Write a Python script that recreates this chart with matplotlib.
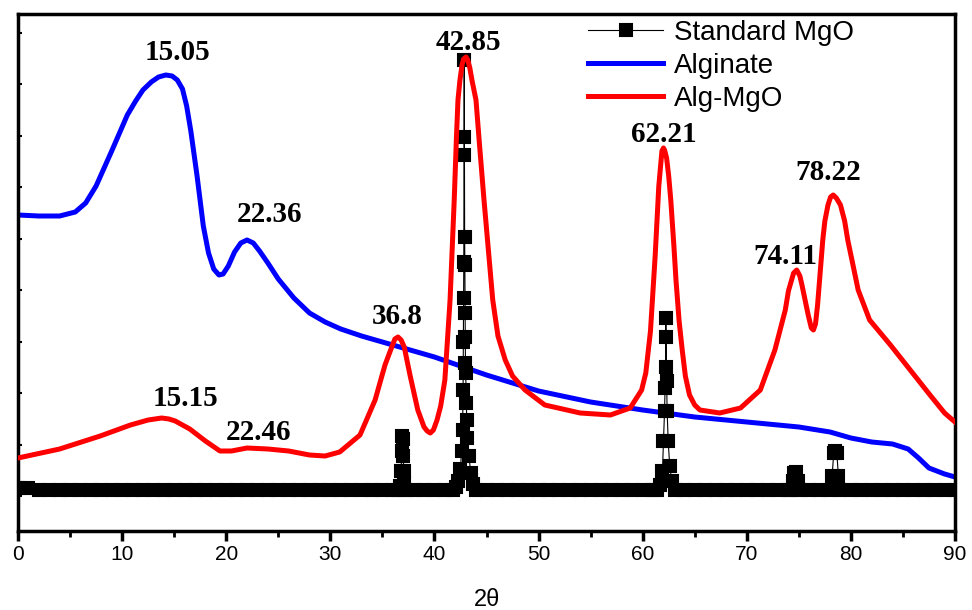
import numpy as np
import matplotlib.pyplot as plt
from matplotlib.ticker import MultipleLocator

# %% data (intensity in arbitrary units)
alg_x = [0, 2, 4, 5.5, 6.5, 7.5, 9, 10.5, 11.3, 12, 12.8, 13.5, 14.2, 14.8, 15.3, 15.8,
         16.2, 16.6, 17.2, 17.8, 18.3, 18.8, 19.3, 19.7, 20.2, 20.8, 21.4, 22.0, 22.6,
         23.2, 24, 25, 26.5, 28, 29.5, 31, 33, 36, 40, 45, 50, 55, 60, 65, 70, 75, 78,
         80, 82, 84, 85.5, 86.5, 87.5, 89, 90]
alg_y = [316, 315, 315, 319, 328, 345, 380, 416, 430, 441, 449, 454, 456, 455, 451, 442,
         425, 400, 355, 305, 278, 262, 256, 257, 265, 279, 288, 291, 288,
         280, 268, 252, 233, 218, 209, 202, 195, 186, 174, 156, 140, 129, 121, 114, 109,
         104, 99, 93, 89, 87, 82, 73, 63, 57, 54]

algmgo_x = [0, 4, 7.9, 10.8, 12.5, 13.8, 14.5, 15.1, 16.5, 18, 19.4, 20.5, 22, 24, 26, 28,
            29.5, 30.9, 32.85, 34.3, 35.25, 35.9, 36.2, 36.5, 36.8, 37.1, 37.65, 38.4,
            39.0, 39.3, 39.6, 39.9, 40.25, 40.6, 41.0, 41.5, 41.9, 42.1, 42.26, 42.45,
            42.65, 42.8, 43.03, 43.2, 43.4, 43.6, 43.99, 44.3, 44.76, 45.6, 46.1, 46.8,
            47.5, 48.7, 50.6, 54.0, 56.9, 58.8, 59.9, 60.3, 60.75, 61.2, 61.55, 61.85,
            62.0, 62.1, 62.3, 62.5, 62.7, 63.0, 63.2, 63.5, 63.8, 64.1, 64.5, 65.0, 65.5,
            67.4, 69.4, 71.3, 72.7, 73.7, 74.0, 74.5, 74.8, 75.1, 75.3, 75.9, 76.2, 76.4,
            76.6, 76.8, 77.3, 77.5, 77.8, 78.05, 78.3, 78.6, 79.0, 79.4, 79.7, 80.7, 81.8,
            83.8, 85.7, 87.6, 89.0, 90]
algmgo_y = [73, 82, 95, 106, 111, 113, 112, 110, 102, 90, 80, 80, 83, 82, 80, 76,
            75, 79, 96, 131, 166, 184, 192, 194, 191, 184, 156, 121,
            104, 100, 98, 101, 111, 125, 151, 231, 331, 390, 431, 451,
            466, 472, 474, 471, 463, 451, 431, 390, 331, 231, 195, 171,
            155, 141, 126, 118, 116, 123, 141, 158, 200, 275, 345, 380,
            383, 381, 373, 355, 331, 285, 251, 210, 181, 155, 136, 126, 121,
            118, 123, 141, 181, 221, 240, 258, 261, 255, 246, 216, 203, 201,
            207, 226, 291, 310, 326, 334, 336, 333, 326, 310, 291, 241, 211,
            186, 161, 136, 118, 109]

std_x = [0, 1, 2, 3, 4, 5, 6, 7, 8, 9, 10, 11, 12, 13, 14, 15, 16, 17, 18, 19, 20,
         21, 22, 23, 24, 25, 26, 27, 28, 29, 30, 31, 32, 33, 34, 35, 36,
         36.5, 36.7, 36.8, 36.85, 36.9, 36.95, 37.0, 37.05, 37.1, 37.3,
         38, 39, 40, 41, 41.8, 42.1, 42.3, 42.5, 42.6, 42.7, 42.75, 42.78, 42.8, 42.82,
         42.84, 42.86, 42.88, 42.9, 42.92, 42.94, 42.96, 42.98, 43.0, 43.05, 43.1, 43.15,
         43.3, 43.5, 43.7, 44.0, 45, 46, 47, 48, 49, 50, 51, 52, 53, 54, 55, 56, 57, 58,
         59, 60, 61, 61.4, 61.7, 61.9, 62.0, 62.1, 62.15, 62.2, 62.22, 62.25, 62.3, 62.35,
         62.45, 62.6, 62.8, 63.1, 64, 65, 66, 67, 68, 69, 70, 71, 72, 73, 74,
         74.2, 74.4, 74.5, 74.7, 74.9, 75.1, 76, 77, 78.0, 78.2, 78.35, 78.5, 78.65, 78.8,
         79.0, 80, 81, 82, 83, 84, 85, 86, 87, 88, 89, 90]
std_y = [43, 43] + [41] * 35 + \
        [41, 45, 60, 80, 95, 92, 75, 60, 48, 41] + \
        [41, 41, 41, 41, 41, 44, 50, 62, 80, 101, 141, 189, 233, 269,
         394, 471, 376, 294, 266, 218, 194, 168, 158, 128, 111, 93,
         75, 58, 47, 41] + [41] * 17 + \
        [41, 46, 60, 90, 120, 143, 164, 213, 194, 150, 120, 90, 65, 50, 41] + [41] * 11 + \
        [41, 50, 58, 59, 50, 41, 41, 41, 41, 55, 78, 80, 78, 55, 41] + [41] * 11

peak_labels = ["15.05", "22.36", "42.85", "36.8", "62.21", "74.11", "78.22", "15.15", "22.46"]
label_x = [15.3, 24.2, 43.3, 36.4, 62.0, 73.7, 77.8, 16.1, 23.1]
label_y = [479, 316, 489, 214, 396, 275, 358, 133, 99]

# %% plot
fig = plt.figure(figsize=(9.72, 6.10), dpi=100)
ax = fig.add_axes([18 / 972, 1 - 531 / 610, 937 / 972, 517 / 610])

l_alg, = ax.plot(alg_x, alg_y, color="#0000ff", lw=3.6, zorder=2, label="Alginate",
                 solid_joinstyle="round")
l_std, = ax.plot(std_x, std_y, color="black", lw=0.8, marker="s", ms=9, mew=1.5,
                 zorder=3, label="Standard MgO")
l_mix, = ax.plot(algmgo_x, algmgo_y, color="#ff0000", lw=3.6, zorder=4, label="Alg-MgO",
                 solid_joinstyle="round")

for txt, x, y in zip(peak_labels, label_x, label_y):
    ax.text(x, y, txt, ha="center", va="center", fontsize=21, fontweight="bold",
            family="Liberation Serif", zorder=5)

ax.set_xlim(0, 90)
ax.set_ylim(0, 517)
ax.xaxis.set_major_locator(MultipleLocator(10))
ax.xaxis.set_minor_locator(MultipleLocator(5))
ax.set_yticks([35 + 51.5 * k for k in range(10)])
ax.set_yticklabels([])
ax.tick_params(axis="x", which="major", direction="out", length=7, width=2.5,
               labelsize=15, pad=3)
ax.tick_params(axis="x", which="minor", direction="out", length=4, width=2)
ax.tick_params(axis="y", direction="in", length=3, width=1.5)
for lab in ax.get_xticklabels():
    lab.set_family("Liberation Sans")
for s in ax.spines.values():
    s.set_linewidth(2.5)

ax.set_xlabel("2θ", fontsize=17, family="Liberation Sans", labelpad=18)

leg = ax.legend(handles=[l_std, l_alg, l_mix], loc="upper left",
                bbox_to_anchor=(588 / 972, 1 - 20 / 610), bbox_transform=fig.transFigure,
                frameon=False, handlelength=2.7, handletextpad=0.4,
                labelspacing=0.25, borderpad=0, borderaxespad=0,
                prop={"family": "Liberation Sans", "size": 20})
leg.legend_handles[0].set_markersize(8)

fig.savefig("out.png", dpi=100)
